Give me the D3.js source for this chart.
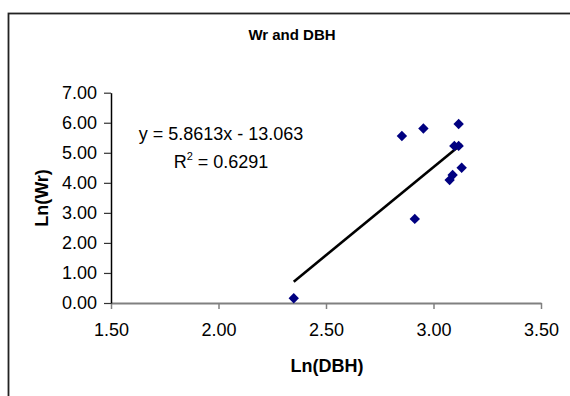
<!DOCTYPE html>
<html>
<head>
<meta charset="utf-8">
<script src="https://cdn.jsdelivr.net/npm/d3@7/dist/d3.min.js"></script>
<style>
  html, body { margin: 0; padding: 0; background: #fff; }
  svg { display: block; font-family: Arial, "Liberation Sans", sans-serif; }
</style>
</head>
<body>
<svg id="chart" width="570" height="396"></svg>
<script>
// Observations: natural log of stem diameter vs natural log of root weight
const lnDBH = [2.350, 2.853, 2.953, 3.117, 3.097, 3.117, 3.131, 3.089, 3.075, 2.913];
const lnWr  = [0.156, 5.560, 5.810, 5.960, 5.230, 5.230, 4.500, 4.260, 4.090, 2.800];

// Linear trendline as reported in the label
const slope = 5.8613;
const intercept = -13.063;
const rSquared = 0.6291;

const xTicks = [1.5, 2.0, 2.5, 3.0, 3.5];
const yTicks = [0, 1, 2, 3, 4, 5, 6, 7];

const svg = d3.select("#chart");

// Chart area border (runs off the right and bottom edges)
svg.append("rect")
  .attr("x", 8.5).attr("y", 13.5)
  .attr("width", 700).attr("height", 500)
  .attr("fill", "#fff")
  .attr("stroke", "#222")
  .attr("stroke-width", 1.8);

const x = d3.scaleLinear().domain([1.5, 3.5]).range([111, 541]);
const y = d3.scaleLinear().domain([0, 7]).range([303, 92.7]);

// Title
svg.append("text")
  .attr("x", 292).attr("y", 40)
  .attr("text-anchor", "middle")
  .attr("font-weight", "bold")
  .attr("font-size", 15)
  .text("Wr and DBH");

// X axis (grey)
const xAxis = svg.append("g")
  .attr("transform", `translate(0,${y(0)})`)
  .call(d3.axisBottom(x).tickValues(xTicks).tickFormat(d3.format(".2f")).tickSize(6).tickPadding(14).tickSizeOuter(0));
xAxis.select(".domain").attr("stroke", "#808080").attr("stroke-width", 2);
xAxis.selectAll(".tick line").attr("stroke", "#808080").attr("stroke-width", 1.5);
xAxis.selectAll(".tick text").attr("font-size", 18).attr("fill", "#000")
  .attr("font-family", "Arial, 'Liberation Sans', sans-serif");

// Y axis (black)
const yAxis = svg.append("g")
  .attr("transform", `translate(${x(1.5)},0)`)
  .call(d3.axisLeft(y).tickValues(yTicks).tickFormat(d3.format(".2f")).tickSize(7).tickPadding(7).tickSizeOuter(0));
yAxis.select(".domain").attr("stroke", "#000").attr("stroke-width", 1.5);
yAxis.selectAll(".tick line").attr("stroke", "#333").attr("stroke-width", 1.2);
yAxis.selectAll(".tick text").attr("font-size", 18).attr("fill", "#000")
  .attr("font-family", "Arial, 'Liberation Sans', sans-serif");

// Axis titles
svg.append("text")
  .attr("x", 327).attr("y", 372)
  .attr("text-anchor", "middle")
  .attr("font-weight", "bold")
  .attr("font-size", 18)
  .text("Ln(DBH)");

svg.append("text")
  .attr("transform", "translate(48,198) rotate(-90)")
  .attr("text-anchor", "middle")
  .attr("font-weight", "bold")
  .attr("font-size", 18)
  .text("Ln(Wr)");

// Trendline across the observed range
const xMin = d3.min(lnDBH), xMax = d3.max(lnDBH);
svg.append("line")
  .attr("x1", x(xMin)).attr("y1", y(slope * xMin + intercept))
  .attr("x2", x(xMax)).attr("y2", y(slope * xMax + intercept))
  .attr("stroke", "#000")
  .attr("stroke-width", 2.6);

// Diamond markers
const r = 5.2;
svg.append("g").selectAll("path")
  .data(lnDBH.map((d, i) => [d, lnWr[i]]))
  .join("path")
  .attr("d", d => {
    const cx = x(d[0]), cy = y(d[1]);
    return `M${cx},${cy - r}L${cx + r},${cy}L${cx},${cy + r}L${cx - r},${cy}Z`;
  })
  .attr("fill", "#000080");

// Regression label
const eq = svg.append("text")
  .attr("text-anchor", "middle")
  .attr("font-size", 18);
eq.append("tspan")
  .attr("x", 221).attr("y", 140)
  .text(`y = ${slope}x - ${Math.abs(intercept)}`);
const r2 = svg.append("text")
  .attr("x", 221).attr("y", 168)
  .attr("text-anchor", "middle")
  .attr("font-size", 18);
r2.append("tspan").text("R");
r2.append("tspan").attr("font-size", 11).attr("dy", -8).text("2");
r2.append("tspan").attr("dy", 8).text(` = ${rSquared}`);
</script>
</body>
</html>
